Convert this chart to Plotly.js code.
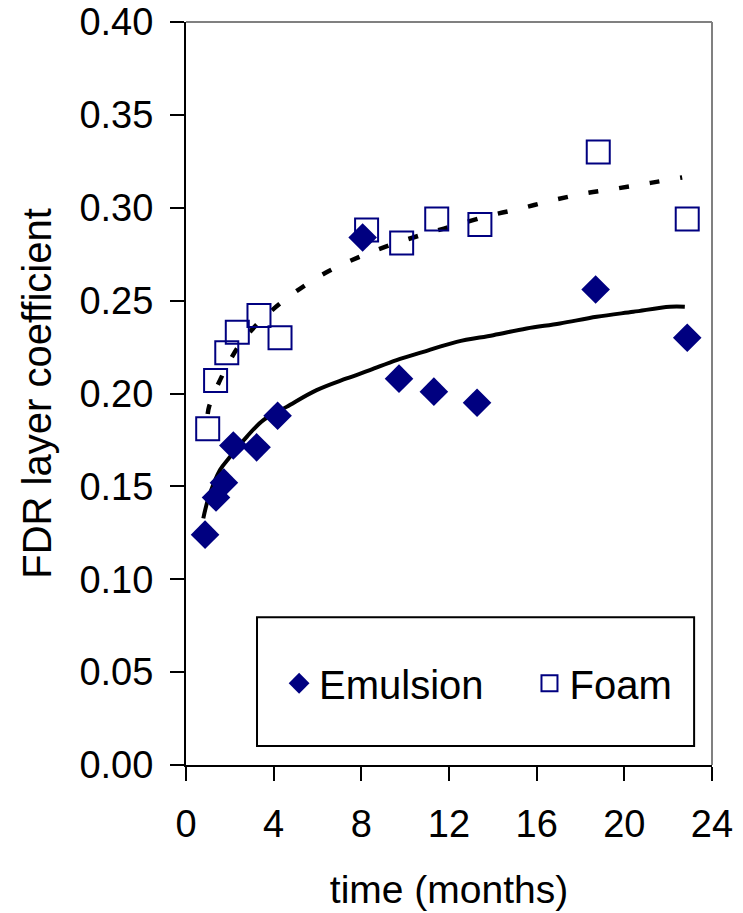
<!DOCTYPE html>
<html>
<head>
<meta charset="utf-8">
<script src="https://cdn.plot.ly/plotly-3.0.1.min.js"></script>
<style>html,body{margin:0;padding:0;background:#fff;}#chart{width:743px;height:913px;}</style>
</head>
<body>
<div id="chart"></div>
<script>
// Data
var emulsionTime = [0.87, 1.37, 1.73, 2.16, 3.22, 4.18, 8.06, 9.72, 11.31, 13.28, 18.69, 22.87];
var emulsionFDR  = [0.124, 0.144, 0.152, 0.172, 0.171, 0.188, 0.284, 0.208, 0.201, 0.195, 0.256, 0.230];

var foamTime = [0.99, 1.35, 1.86, 2.34, 3.33, 4.29, 8.24, 9.84, 11.44, 13.41, 18.81, 22.87];
var foamFDR  = [0.181, 0.207, 0.222, 0.233, 0.242, 0.230, 0.288, 0.281, 0.294, 0.291, 0.330, 0.294];

// Trendlines
var emulsionTrendTime = [0.79, 1.02, 1.55, 2.01, 2.77, 3.53, 4.59, 5.96, 7.33, 8.39, 9.61, 10.83, 12.35, 14.02, 15.54, 17.06, 18.74, 20.41, 22.08, 22.76];
var emulsionTrendFDR  = [0.1328, 0.1435, 0.1588, 0.1659, 0.1767, 0.1857, 0.1928, 0.2018, 0.2081, 0.2126, 0.2180, 0.2224, 0.2278, 0.2314, 0.2350, 0.2377, 0.2413, 0.2440, 0.2467, 0.2467];

var foamTrendTime = [0.99, 1.06, 1.70, 2.51, 3.57, 4.90, 6.37, 7.86, 9.31, 10.87, 12.32, 13.79, 15.27, 16.76, 18.20, 19.68, 21.20, 22.64];
var foamTrendFDR  = [0.189, 0.1932, 0.2108, 0.2273, 0.2410, 0.2539, 0.2650, 0.2733, 0.2799, 0.2858, 0.2906, 0.2956, 0.2996, 0.3041, 0.3077, 0.3104, 0.3134, 0.3163];

var xTickVals = [0, 4, 8, 12, 16, 20, 24];
var yTickVals = [0.00, 0.05, 0.10, 0.15, 0.20, 0.25, 0.30, 0.35, 0.40];

var FONT = "Liberation Sans, Arial, sans-serif";
var NAVY = "#000080";

var traces = [
  {x: emulsionTrendTime, y: emulsionTrendFDR, mode: "lines", line: {color: "#000", width: 4, shape: "spline"}, showlegend: false, hoverinfo: "skip"},
  {x: foamTrendTime, y: foamTrendFDR, mode: "lines", line: {color: "#000", width: 4.5, shape: "spline", dash: "10px,21px"}, showlegend: false, hoverinfo: "skip"},
  {x: emulsionTime, y: emulsionFDR, name: "Emulsion", mode: "markers", legend: "legend",
   marker: {symbol: "diamond", size: 22, color: NAVY, line: {width: 0}}},
  {x: foamTime, y: foamFDR, name: "Foam", mode: "markers", legend: "legend2",
   marker: {symbol: "square-open", size: 23, color: NAVY, line: {width: 2, color: NAVY}}}
];

var legendCommon = {
  orientation: "h", xanchor: "left", yanchor: "middle",
  bgcolor: "rgba(0,0,0,0)", borderwidth: 0,
  font: {family: FONT, size: 40, color: "#000"},
  itemclick: false, itemdoubleclick: false
};

var layout = {
  width: 743, height: 913,
  margin: {l: 186, r: 31, t: 22, b: 148, pad: 0},
  paper_bgcolor: "#fff", plot_bgcolor: "#fff",
  font: {family: FONT, color: "#000", size: 38},
  showlegend: true,
  legend: Object.assign({}, legendCommon, {x: 0.177, y: 0.110}),
  legend2: Object.assign({}, legendCommon, {x: 0.653, y: 0.110}),
  xaxis: {
    range: [0, 24], tickvals: xTickVals, ticktext: xTickVals.map(String),
    showline: true, linecolor: "#000", linewidth: 2,
    ticks: "outside", ticklen: 14, tickwidth: 2, tickcolor: "#000",
    showgrid: false, zeroline: false,
    tickfont: {family: FONT, size: 38},
    ticklabelstandoff: 10,
    title: {text: "time (months)", font: {family: FONT, size: 39}, standoff: 32},
    automargin: false, fixedrange: true
  },
  yaxis: {
    range: [0, 0.40], tickvals: yTickVals, ticktext: yTickVals.map(function(v){return v.toFixed(2);}),
    showline: true, linecolor: "#000", linewidth: 2,
    ticks: "outside", ticklen: 14, tickwidth: 2, tickcolor: "#000",
    showgrid: false, zeroline: false,
    tickfont: {family: FONT, size: 38},
    ticklabelstandoff: 9,
    title: {text: "FDR layer coefficient", font: {family: FONT, size: 40}, standoff: 15},
    automargin: false, fixedrange: true
  },
  shapes: [
    {type: "rect", xref: "paper", yref: "paper", x0: 0.135, x1: 0.966, y0: 0.0256, y1: 0.199,
     line: {color: "#000", width: 2}, fillcolor: "#fff", layer: "below"},
    {type: "line", xref: "paper", yref: "paper", x0: 0, x1: 1, y0: 1, y1: 1, line: {color: "#808080", width: 2}},
    {type: "line", xref: "paper", yref: "paper", x0: 1, x1: 1, y0: 0, y1: 1, line: {color: "#808080", width: 2}}
  ]
};

Plotly.newPlot("chart", traces, layout, {displayModeBar: false, staticPlot: true});
</script>
</body>
</html>
